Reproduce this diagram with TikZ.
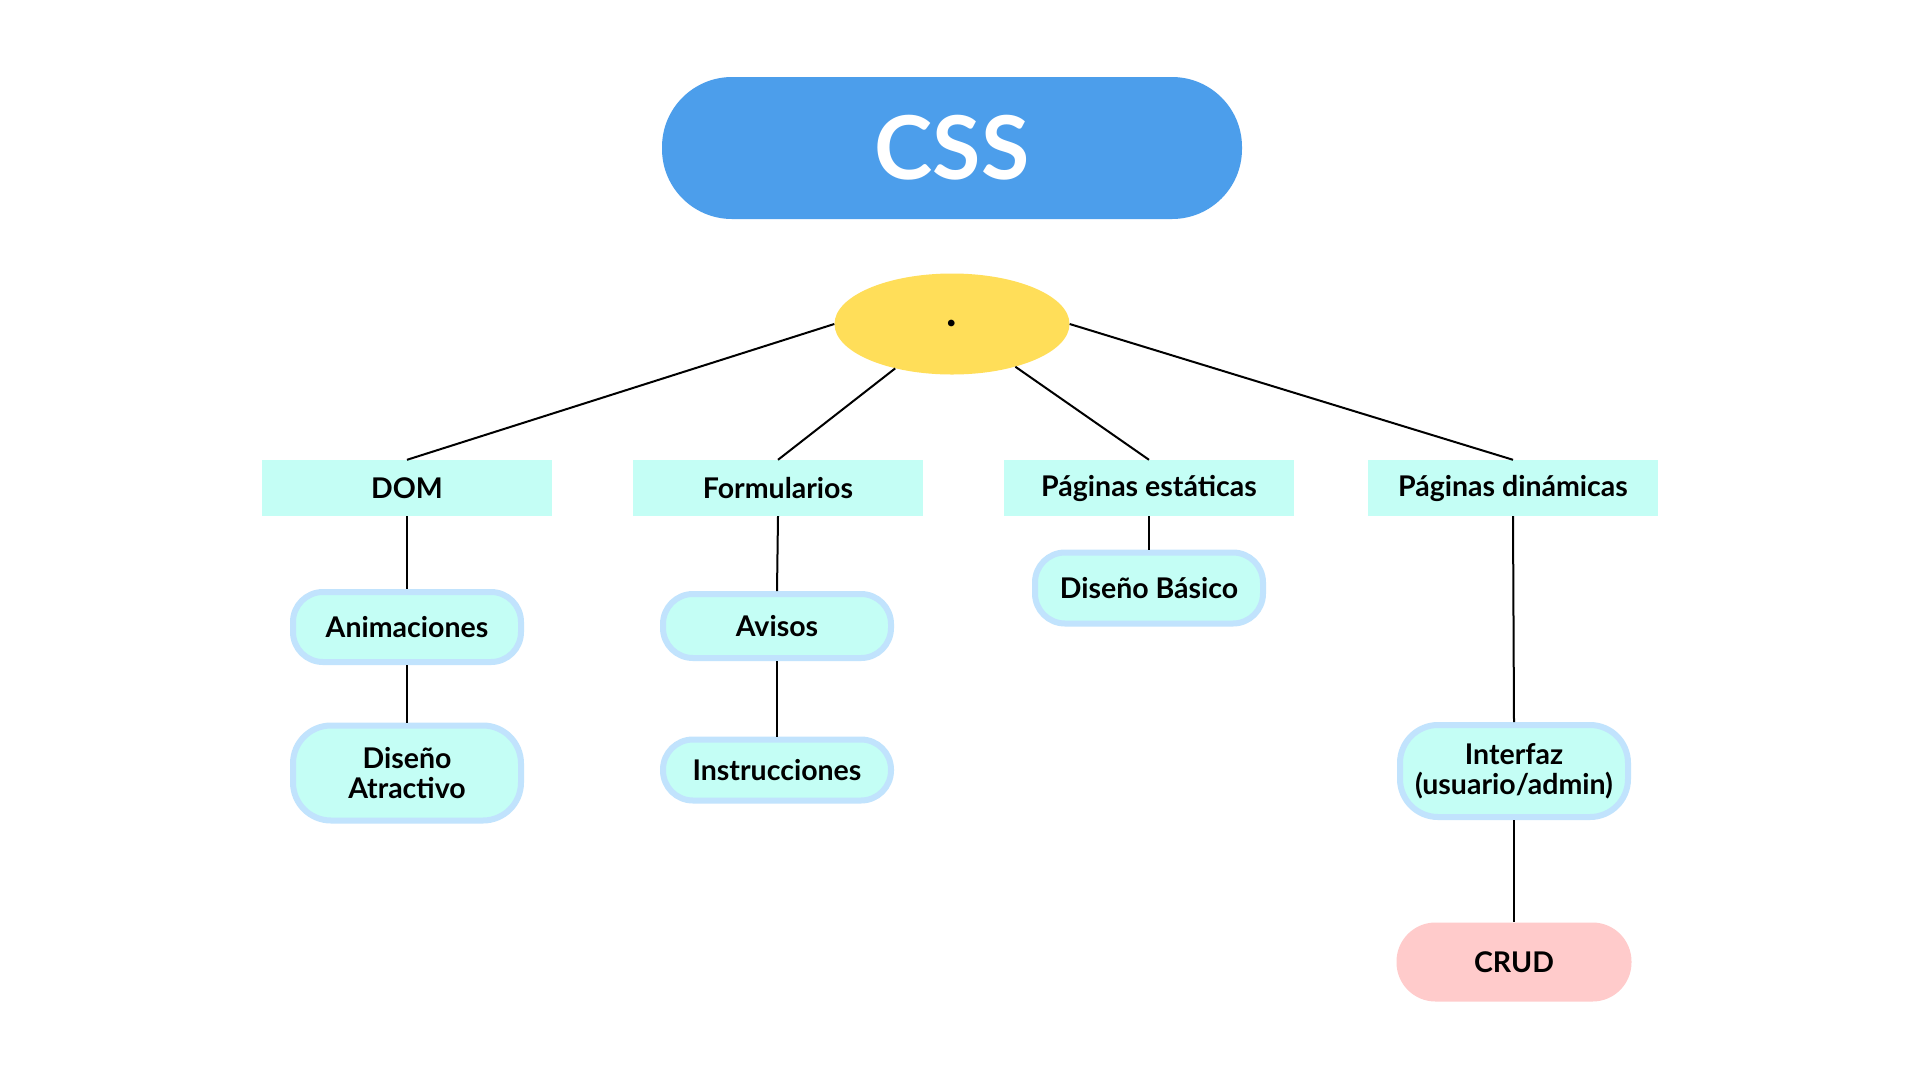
\documentclass[tikz,border=0pt]{standalone}
\usepackage{fontspec}
\setmainfont{Lato}
\usetikzlibrary{shapes.geometric}
\definecolor{cssblue}{HTML}{4C9EEB}
\definecolor{ellyellow}{HTML}{FFDE59}
\definecolor{mint}{HTML}{C4FEF5}
\definecolor{pillborder}{HTML}{C1E3FD}
\definecolor{crudpink}{HTML}{FFCBCB}
\begin{document}
\begin{tikzpicture}[x=1pt,y=-1pt,
  txt/.style={font=\fontsize{28.5}{30}\selectfont\bfseries, text=black},
  cat/.style={txt, fill=mint, minimum width=290pt, minimum height=56pt, inner sep=0pt},
  pill/.style={txt, fill=mint, draw=pillborder, line width=6pt, rounded corners=30pt,
    minimum width=228pt, inner sep=0pt, align=center},
  tallpill/.style={pill, rounded corners=38pt},
  crud/.style={txt, fill=crudpink, rounded corners=39pt, minimum width=235pt,
    minimum height=79pt, inner sep=0pt},
  conn/.style={draw=black, line width=2pt}]
\useasboundingbox[fill=white] (0,0) rectangle (1920,1080);

\node[fill=cssblue, rounded corners=70pt, minimum width=580pt, minimum height=142pt,
  inner sep=0pt, text=white, font=\fontsize{88}{96}\selectfont\bfseries] (css) at (952,148) {CSS};

\node[ellipse, fill=ellyellow, minimum width=235pt, minimum height=101pt, inner sep=0pt,
  font=\fontsize{44}{44}\selectfont\bfseries] (e) at (952,324) {\raisebox{0.03em}{.}};

\node[cat] (dom) at (407,488) {DOM};
\node[cat] (form) at (778,488) {Formularios};
\node[cat] (est) at (1149,488) {Páginas estáticas};
\node[cat] (din) at (1513,488) {Páginas dinámicas};

\node[pill, minimum height=70pt] (anim) at (407,627) {Animaciones};
\node[tallpill, minimum height=95pt] (dat) at (407,773) {Diseño\\Atractivo};
\node[pill, minimum height=64pt] (avi) at (777,626) {Avisos};
\node[pill, minimum height=61pt] (ins) at (777,770) {Instrucciones};
\node[pill, minimum height=71pt] (dba) at (1149,588) {Diseño Básico};
\node[tallpill, minimum height=92pt] (int) at (1514,771) {Interfaz\\(usuario/admin)};
\node[crud] (crd) at (1514,962) {CRUD};

\draw[conn] (e.west) -- (dom.north);
\draw[conn] (e.218) -- (form.north);
\draw[conn] (e.326) -- (est.north);
\draw[conn] (e.east) -- (din.north);

\draw[conn] (dom.south) -- (anim.north);
\draw[conn] (anim.south) -- (dat.north);
\draw[conn] (form.south) -- (avi.north);
\draw[conn] (avi.south) -- (ins.north);
\draw[conn] (est.south) -- (dba.north);
\draw[conn] (din.south) -- (int.north);
\draw[conn] (int.south) -- (crd.north);
\end{tikzpicture}
\end{document}
